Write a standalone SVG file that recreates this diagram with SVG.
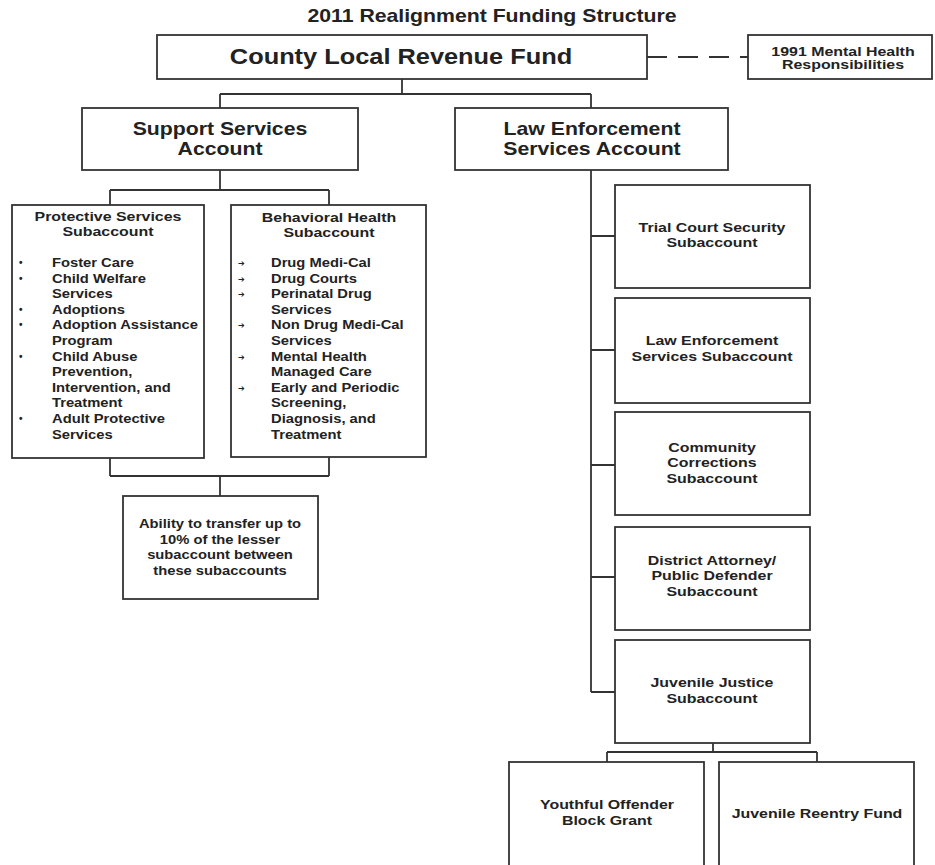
<svg xmlns="http://www.w3.org/2000/svg" width="935" height="865" viewBox="0 0 935 865">
<style>
  .box { fill: #ffffff; stroke: #333333; stroke-width: 1.8; }
  .conn { fill: none; stroke: #333333; stroke-width: 1.8; }
  .dash { fill: none; stroke: #333333; stroke-width: 1.8; stroke-dasharray: 20 11; }
  text { font-family: "Liberation Sans", Arial, sans-serif; fill: #222222; font-weight: bold; }
  .title { font-size: 18px; }
  .big { font-size: 21.5px; }
  .acct { font-size: 18px; }
  .hdr { font-size: 13.5px; }
  .body { font-size: 12.5px; }
  .dot { font-size: 10px; }
  .arr { font-family: "DejaVu Sans", sans-serif; font-size: 8px; }
</style>
<rect x="0" y="0" width="935" height="865" fill="#ffffff"/>

<text id="title" class="title" text-anchor="middle" transform="translate(492,22) scale(1.18 1)">2011 Realignment Funding Structure</text>

<g id="connectors">
  <path class="dash" d="M647,57 H748"/>
  <path class="conn" d="M402,79 V94 M220,94 H591 M220,94 V108 M591,94 V108"/>
  <path class="conn" d="M220,170 V190 M110,190 H329 M110,190 V205 M329,190 V205"/>
  <path class="conn" d="M110,458 V476 M329,457 V476 M110,476 H329 M220,476 V496"/>
  <path class="conn" d="M591,170 V692 M591,236 H615 M591,350 H615 M591,465 H615 M591,577 H615 M591,692 H615"/>
  <path class="conn" d="M713,743 V752 M607,752 H817 M607,752 V762 M817,752 V762"/>
</g>

<g id="county">
  <rect class="box" x="157" y="35" width="490" height="44"/>
  <text class="big" text-anchor="middle" transform="translate(401,64) scale(1.18 1)">County Local Revenue Fund</text>
</g>

<g id="mh1991">
  <rect class="box" x="748" y="35" width="184" height="44"/>
  <text class="hdr" text-anchor="middle" transform="translate(843,55.5) scale(1.18 1)"><tspan x="0" y="0">1991 Mental Health</tspan><tspan x="0" y="14">Responsibilities</tspan></text>
</g>

<g id="support">
  <rect class="box" x="82" y="108" width="276" height="62"/>
  <text class="acct" text-anchor="middle" transform="translate(220,135) scale(1.18 1)"><tspan x="0" y="0">Support Services</tspan><tspan x="0" y="20">Account</tspan></text>
</g>

<g id="law">
  <rect class="box" x="455" y="108" width="273" height="62"/>
  <text class="acct" text-anchor="middle" transform="translate(592,135) scale(1.18 1)"><tspan x="0" y="0">Law Enforcement</tspan><tspan x="0" y="20">Services Account</tspan></text>
</g>

<g id="protective">
  <rect class="box" x="12" y="205" width="192" height="253"/>
  <text class="hdr" text-anchor="middle" transform="translate(108,221) scale(1.18 1)"><tspan x="0" y="0">Protective Services</tspan><tspan x="0" y="15">Subaccount</tspan></text>
  <text class="dot" x="19" y="266">•</text>
  <text class="dot" x="19" y="281.6">•</text>
  <text class="dot" x="19" y="312.8">•</text>
  <text class="dot" x="19" y="328.4">•</text>
  <text class="dot" x="19" y="359.6">•</text>
  <text class="dot" x="19" y="422">•</text>
  <text class="body" transform="translate(52,0) scale(1.18 1)"><tspan x="0" y="267">Foster Care</tspan><tspan x="0" y="282.6">Child Welfare</tspan><tspan x="0" y="298.2">Services</tspan><tspan x="0" y="313.8">Adoptions</tspan><tspan x="0" y="329.4">Adoption Assistance</tspan><tspan x="0" y="345">Program</tspan><tspan x="0" y="360.6">Child Abuse</tspan><tspan x="0" y="376.2">Prevention,</tspan><tspan x="0" y="391.8">Intervention, and</tspan><tspan x="0" y="407.4">Treatment</tspan><tspan x="0" y="423">Adult Protective</tspan><tspan x="0" y="438.6">Services</tspan></text>
</g>

<g id="behavioral">
  <rect class="box" x="231" y="205" width="195" height="252"/>
  <text class="hdr" text-anchor="middle" transform="translate(329,222) scale(1.18 1)"><tspan x="0" y="0">Behavioral Health</tspan><tspan x="0" y="15">Subaccount</tspan></text>
  <text class="arr" x="238" y="266">➔</text>
  <text class="arr" x="238" y="281.6">➔</text>
  <text class="arr" x="238" y="297.2">➔</text>
  <text class="arr" x="238" y="328.4">➔</text>
  <text class="arr" x="238" y="359.6">➔</text>
  <text class="arr" x="238" y="390.8">➔</text>
  <text class="body" transform="translate(271,0) scale(1.18 1)"><tspan x="0" y="267">Drug Medi-Cal</tspan><tspan x="0" y="282.6">Drug Courts</tspan><tspan x="0" y="298.2">Perinatal Drug</tspan><tspan x="0" y="313.8">Services</tspan><tspan x="0" y="329.4">Non Drug Medi-Cal</tspan><tspan x="0" y="345">Services</tspan><tspan x="0" y="360.6">Mental Health</tspan><tspan x="0" y="376.2">Managed Care</tspan><tspan x="0" y="391.8">Early and Periodic</tspan><tspan x="0" y="407.4">Screening,</tspan><tspan x="0" y="423">Diagnosis, and</tspan><tspan x="0" y="438.6">Treatment</tspan></text>
</g>

<g id="transfer">
  <rect class="box" x="123" y="496" width="195" height="103"/>
  <text class="body" text-anchor="middle" transform="translate(220,528) scale(1.18 1)"><tspan x="0" y="0">Ability to transfer up to</tspan><tspan x="0" y="15.6">10% of the lesser</tspan><tspan x="0" y="31.2">subaccount between</tspan><tspan x="0" y="46.8">these subaccounts</tspan></text>
</g>

<g id="trial">
  <rect class="box" x="615" y="185" width="195" height="103"/>
  <text class="hdr" text-anchor="middle" transform="translate(712,232) scale(1.18 1)"><tspan x="0" y="0">Trial Court Security</tspan><tspan x="0" y="15">Subaccount</tspan></text>
</g>

<g id="lawsub">
  <rect class="box" x="615" y="298" width="195" height="105"/>
  <text class="hdr" text-anchor="middle" transform="translate(712,345) scale(1.18 1)"><tspan x="0" y="0">Law Enforcement</tspan><tspan x="0" y="16">Services Subaccount</tspan></text>
</g>

<g id="community">
  <rect class="box" x="615" y="412" width="195" height="103"/>
  <text class="hdr" text-anchor="middle" transform="translate(712,452) scale(1.18 1)"><tspan x="0" y="0">Community</tspan><tspan x="0" y="15.5">Corrections</tspan><tspan x="0" y="31">Subaccount</tspan></text>
</g>

<g id="district">
  <rect class="box" x="615" y="527" width="195" height="103"/>
  <text class="hdr" text-anchor="middle" transform="translate(712,565) scale(1.18 1)"><tspan x="0" y="0">District Attorney/</tspan><tspan x="0" y="15.5">Public Defender</tspan><tspan x="0" y="31">Subaccount</tspan></text>
</g>

<g id="juvenile">
  <rect class="box" x="615" y="640" width="195" height="103"/>
  <text class="hdr" text-anchor="middle" transform="translate(712,687) scale(1.18 1)"><tspan x="0" y="0">Juvenile Justice</tspan><tspan x="0" y="16">Subaccount</tspan></text>
</g>

<g id="youthful">
  <rect class="box" x="509" y="762" width="195" height="120"/>
  <text class="hdr" text-anchor="middle" transform="translate(607,809) scale(1.18 1)"><tspan x="0" y="0">Youthful Offender</tspan><tspan x="0" y="16">Block Grant</tspan></text>
</g>

<g id="reentry">
  <rect class="box" x="719" y="762" width="195" height="120"/>
  <text class="hdr" text-anchor="middle" transform="translate(817,818) scale(1.18 1)">Juvenile Reentry Fund</text>
</g>
</svg>
